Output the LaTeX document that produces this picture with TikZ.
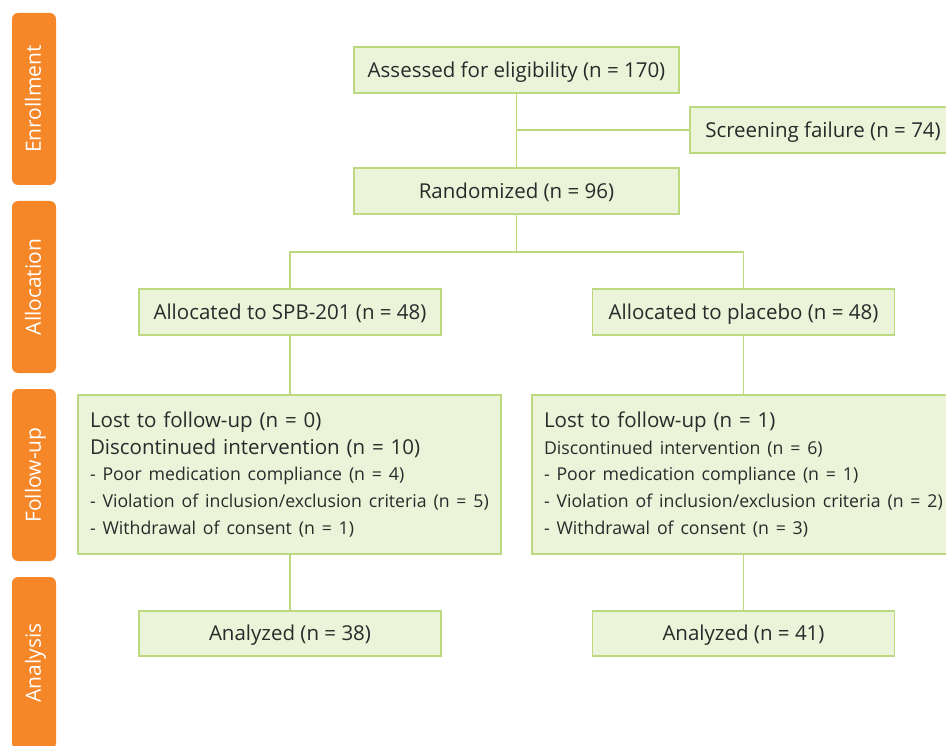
\documentclass[tikz,border=0pt]{standalone}
\usepackage{fontspec}
\setmainfont{Open Sans}
\usetikzlibrary{positioning}

\definecolor{boxfill}{HTML}{EBF3D9}
\definecolor{boxline}{HTML}{BCD880}
\definecolor{tabfill}{HTML}{F58729}
\definecolor{txtgray}{HTML}{2A2A2A}

\newcommand{\bigtxt}{\fontsize{20.5}{26.7}\selectfont}
\newcommand{\smalltxt}{\fontsize{17.7}{26.7}\selectfont}

\tikzset{
  stage/.style={fill=tabfill, rounded corners=6pt, minimum width=172pt,
    minimum height=44pt, text=white, rotate=90, inner sep=0pt,
    text height=16pt, text depth=2pt,
    font=\fontsize{21}{24}\selectfont},
  panel/.style={draw=boxline, fill=boxfill, line width=1.3pt,
    inner sep=0pt, text=txtgray, font=\bigtxt},
  flowbox/.style={panel, minimum height=46pt, text height=16pt, text depth=1.5pt},
  listbox/.style={panel, minimum height=159pt, text width=399pt,
    inner xsep=12pt, align=left},
  link/.style={draw=boxline, line width=1.3pt}
}

\begin{document}
\begin{tikzpicture}[x=1pt, y=-1pt]
  \clip (0,0) rectangle (946,746);
  \useasboundingbox (0,0) rectangle (946,746);

  % stage tabs
  \node[stage] (enroll) at (34,99) {Enrollment};
  \node[stage] (alloc) at (34,287) {Allocation};
  \node[stage] (follow) at (34,475) {Follow-up};
  \node[stage] (analysis) at (34,663) {Analysis};

  % boxes
  \node[flowbox, minimum width=325pt] (assess) at (516.5,70) {Assessed for eligibility (n = 170)};
  \node[flowbox, minimum width=266pt] (screen) at (823,130) {Screening failure (n = 74)};
  \node[flowbox, minimum width=325pt] (rand) at (516.5,191) {Randomized (n = 96)};
  \node[flowbox, minimum width=302pt] (allocA) at (290,312) {Allocated to SPB-201 (n = 48)};
  \node[flowbox, minimum width=302pt] (allocB) at (743.5,312) {Allocated to placebo (n = 48)};
  \node[listbox] (followA) at (289.5,474.5) {\bigtxt Lost to follow-up (n = 0)\\
    Discontinued intervention (n = 10)\\
    \smalltxt - Poor medication compliance (n = 4)\\
    - Violation of inclusion/exclusion criteria (n = 5)\\
    - Withdrawal of consent (n = 1)};
  \node[listbox] (followB) at (743.5,474.5) {\bigtxt Lost to follow-up (n = 1)\\
    \smalltxt Discontinued intervention (n = 6)\\
    - Poor medication compliance (n = 1)\\
    - Violation of inclusion/exclusion criteria (n = 2)\\
    - Withdrawal of consent (n = 3)};
  \node[flowbox, minimum width=302pt, minimum height=45pt] (analA) at (290,633.5) {Analyzed (n = 38)};
  \node[flowbox, minimum width=302pt, minimum height=45pt] (analB) at (743.5,633.5) {Analyzed (n = 41)};

  % connectors
  \coordinate (split) at (516.5,252);
  \draw[link] (assess.south) -- (rand.north);
  \draw[link] (assess.south |- screen.west) -- (screen.west);
  \draw[link] (rand.south) -- (split);
  \draw[link] (allocA.north) |- (split) -| (allocB.north);
  \draw[link] (allocA.south) -- (allocA.south |- followA.north);
  \draw[link] (allocB.south) -- (followB.north);
  \draw[link] (allocA.south |- followA.south) -- (analA.north);
  \draw[link] (followB.south) -- (analB.north);
\end{tikzpicture}
\end{document}
